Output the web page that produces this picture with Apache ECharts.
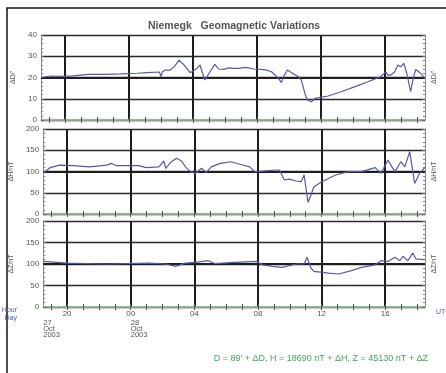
<!DOCTYPE html>
<html><head><meta charset="utf-8">
<script src="https://cdn.jsdelivr.net/npm/echarts@6/dist/echarts.min.js"></script>
<style>html,body{margin:0;padding:0;background:#fff}#c{width:446px;height:373px}</style>
</head><body><div id="c"></div>
<script>
// Hours since 27 Oct 2003 00:00 UTC
const dHours = [18.5,18.62,19.12,19.8,20.5,21.42,22.5,23.5,24.52,25.15,25.9,26.0,26.08,26.26,26.57,26.82,27.13,27.44,27.82,28.0,28.25,28.44,28.6,28.75,29.0,29.37,29.6,29.93,30.2,30.55,30.86,31.3,31.8,32.29,32.6,32.91,33.34,33.53,33.66,33.9,34.15,34.59,34.77,35.02,35.15,35.39,35.64,36.45,37.26,38.13,38.93,39.74,40.05,40.2,40.36,40.61,40.8,40.98,41.17,41.36,41.6,41.79,41.92,42.23,42.48];
const dValues = [20,19.9,20.7,20.5,20.8,21.5,21.5,21.7,22,22.3,22.6,20.4,22.6,23.5,23.5,25,28.2,25.9,22.3,23,24.3,25.9,22,18.8,22,26.2,24,23.8,24.5,24.3,24.3,24.8,24,23.8,23.5,22.7,19.6,17.6,20.4,23.5,22.3,20.4,18.8,11.8,9.4,8.6,10.2,11.3,13.3,15.7,18,20.4,22.7,21,21.2,22.7,25.9,25,26.7,22,13.3,20.4,23.8,22,19.6];

const hHours = [18.5,18.92,19.54,20.35,21.42,22.48,22.8,23.1,24.52,24.96,25.77,26.08,26.2,26.51,26.88,27.2,27.44,27.76,28.07,28.44,28.75,29.06,29.62,30.3,30.42,30.86,31.48,31.79,32.29,33.16,33.34,33.66,33.97,34.4,34.71,34.9,35.02,35.15,35.33,35.52,36.01,36.88,37.69,38.5,39.37,39.74,40.17,40.42,40.61,40.98,41.23,41.54,41.85,42.16,42.48];
const hValues = [95.7,109,115,113.7,111,115,119,113.7,113.7,109,111,124.7,107.5,121.6,131,124.7,111,99.6,95.7,107.5,98,111,119,123,127,117,111,99.6,101,103.5,103.5,80,82,77.6,76,91.8,60,27.5,44.7,64.3,76,91.8,99.6,99.6,109,95.7,127,111,99.6,123,111,146.6,72,95.7,109];

const zHours = [18.5,19.99,22.48,25.15,26.2,26.82,27.44,28.07,28.87,29.31,30.27,31.92,32.29,32.91,33.53,34.4,34.9,35.08,35.33,35.52,36.45,37.07,37.88,38.5,39.37,39.74,40.17,40.61,40.92,41.11,41.42,41.73,41.92,42.48];
const zValues = [106,102,100,102,100,94.6,102,104,107.7,100.7,103,106,98,94.6,92.3,100,100,115.6,90.7,83,79,76.7,84.5,92.3,98,107.7,106,115.6,107.7,118,107.7,125.6,112,110];

const hourTicks = [19,20,21,22,23,24,25,26,27,28,29,30,31,32,33,34,35,36,37,38,39,40,41,42];
const majorHours = [20,24,28,32,36,40];
const dayStarts = [18.5,24];
const dayLabels = ['27\nOct\n2003','28\nOct\n2003'];
const yNames = ["ΔD/'", 'ΔH/nT', 'ΔZ/nT'];
const yMax = [40,200,200];
const yInterval = [10,50,50];
const baseLevels = [20,100,100];
const footer = "D = 89' + ΔD, H = 18690 nT + ΔH, Z = 45130 nT + ΔZ";

const FONT = 'Liberation Sans';
const grids = [
  {left:41, top:35, width:387, height:85},
  {left:41, top:129, width:387, height:85},
  {left:41, top:221, width:387, height:86}
];
const xAxis = [], yAxis = [], series = [];
const datasets = [[dHours,dValues],[hHours,hValues],[zHours,zValues]];
// bottom axes (green zero line, hourly ticks, labels on last panel)
for (let i=0;i<3;i++){
  xAxis.push({
    type:'value', gridIndex:i, min:18.5, max:42.5, position:'bottom',
    axisLine:{show:true, lineStyle:{color:'#66cc66', width:1.5}},
    axisTick:{show:true, inside:true, length:3, customValues:hourTicks, lineStyle:{color:'#555'}},
    splitLine:{show:false},
    axisLabel:{show:i===2, customValues:majorHours, margin:3, fontSize:8, color:'#555', fontFamily:FONT,
      formatter:v=>String(((v%24)+24)%24).padStart(2,'0')}
  });
}
// top axes (hourly ticks)
for (let i=0;i<3;i++){
  xAxis.push({
    type:'value', gridIndex:i, min:18.5, max:42.5, position:'top',
    axisLine:{show:true, lineStyle:{color:'#999', width:1}},
    axisTick:{show:true, inside:true, length:3, customValues:hourTicks, lineStyle:{color:'#555'}},
    splitLine:{show:false}, axisLabel:{show:false}
  });
}
// hidden axes carrying the 4-hour vertical grid lines
for (let i=0;i<3;i++){
  xAxis.push({
    type:'value', gridIndex:i, min:18.5, max:42.5, position:'top', offset:0,
    axisLine:{show:false},
    axisTick:{show:false, customValues:majorHours},
    splitLine:{show:true, lineStyle:{color:'#1e1e1e', width:2}},
    axisLabel:{show:false, customValues:majorHours}
  });
}
// date labels
xAxis.push({
  type:'value', gridIndex:2, min:18.5, max:42.5, position:'bottom', offset:13,
  axisLine:{show:false}, axisTick:{show:false}, splitLine:{show:false},
  axisLabel:{show:true, customValues:dayStarts, align:'left', verticalAlign:'top', margin:0, fontSize:7.5, lineHeight:6, color:'#555', fontFamily:FONT,
    formatter:v=>{const k=dayStarts.indexOf(v); return k>=0?dayLabels[k]:'';}}
});
for (let i=0;i<3;i++){
  yAxis.push({
    type:'value', gridIndex:i, min:0, max:yMax[i], interval:yInterval[i], position:'left',
    name:yNames[i], nameLocation:'middle', nameGap:24,
    nameTextStyle:{fontSize:7, color:'#555', fontFamily:FONT},
    axisLine:{show:true, lineStyle:{color:'#888'}},
    axisTick:{show:true, inside:true, length:3, lineStyle:{color:'#666'}},
    minorTick:{show:true, splitNumber:5, length:2, lineStyle:{color:'#888'}},
    splitLine:{show:true, lineStyle:{color:'#2a2a2a', width:1.3}},
    axisLabel:{fontSize:8, color:'#555', margin:4, fontFamily:FONT}
  });
  yAxis.push({
    type:'value', gridIndex:i, min:0, max:yMax[i], interval:yInterval[i], position:'right',
    name:yNames[i], nameLocation:'middle', nameGap:6,
    nameTextStyle:{fontSize:7, color:'#555', fontFamily:FONT},
    axisLine:{show:true, lineStyle:{color:'#888'}},
    axisTick:{show:true, inside:true, length:3, lineStyle:{color:'#666'}},
    minorTick:{show:true, splitNumber:5, length:2, lineStyle:{color:'#888'}},
    splitLine:{show:false}, axisLabel:{show:false}
  });
}
for (let i=0;i<3;i++){
  const [hs, vs] = datasets[i];
  series.push({
    type:'line', xAxisIndex:i, yAxisIndex:2*i, showSymbol:false, symbol:'none',
    data: hs.map((h,k)=>[h, vs[k]]),
    lineStyle:{color:'#5858aa', width:1.2}, z:5, animation:false,
    markLine:{silent:true, symbol:'none', label:{show:false}, animation:false,
      lineStyle:{color:'#1e1e1e', width:2, type:'solid'}, data:[{yAxis:baseLevels[i]}], z:3}
  });
}
const chart = echarts.init(document.getElementById('c'), null, {renderer:'canvas'});
chart.setOption({
  animation:false,
  title:{text:'Niemegk   Geomagnetic Variations', left:143, top:16,
    textStyle:{fontSize:10.5, fontWeight:'bold', color:'#555', fontFamily:FONT}},
  grid:grids, xAxis:xAxis, yAxis:yAxis, series:series,
  graphic:[
    {type:'rect', shape:{x:7, y:8, width:480, height:420}, style:{fill:'none', stroke:'#111', lineWidth:1.5}, silent:true},
    {type:'text', right:429, top:307, style:{text:'Hour', fill:'#4a64a8', fontSize:7, fontFamily:FONT, align:'right'}},
    {type:'text', right:429, top:315, style:{text:'Day', fill:'#4a64a8', fontSize:7, fontFamily:FONT, align:'right'}},
    {type:'text', left:436, top:309, style:{text:'UTC', fill:'#4a64a8', fontSize:7, fontFamily:FONT}},
    {type:'text', right:18, top:354, style:{text:footer, fill:'#3aaa55', fontSize:9, fontFamily:FONT}}
  ]
});
</script></body></html>
